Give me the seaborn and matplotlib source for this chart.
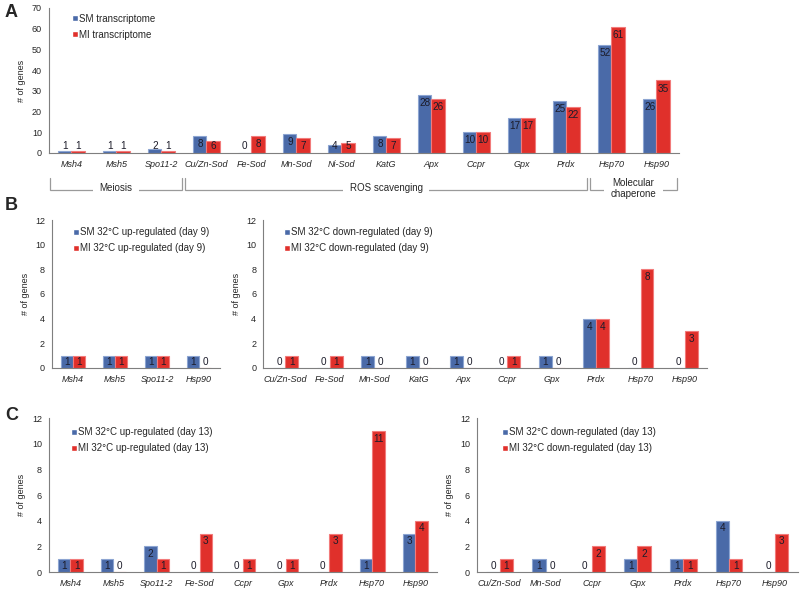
import numpy as np
import pandas as pd
import matplotlib
matplotlib.use("Agg")
import matplotlib.pyplot as plt
import seaborn as sns
from matplotlib.lines import Line2D

sns.set_style("white")
plt.rcParams['font.family'] = ['Liberation Sans', 'DejaVu Sans']

BLUE = "#4A6AA8"
RED = "#E0302B"
BLUE_EDGE = "#8DA5D2"
RED_EDGE = "#F27B7B"

# ---------------- data ----------------
genes_a = ["Msh4", "Msh5", "Spo11-2", "Cu/Zn-Sod", "Fe-Sod", "Mn-Sod", "Ni-Sod",
           "KatG", "Apx", "Ccpr", "Gpx", "Prdx", "Hsp70", "Hsp90"]
sm_a = [1, 1, 2, 8, 0, 9, 4, 8, 28, 10, 17, 25, 52, 26]
mi_a = [1, 1, 1, 6, 8, 7, 5, 7, 26, 10, 17, 22, 61, 35]
labels_a = ["SM transcriptome", "MI transcriptome"]

genes_b1 = ["Msh4", "Msh5", "Spo11-2", "Hsp90"]
sm_b1 = [1, 1, 1, 1]
mi_b1 = [1, 1, 1, 0]
labels_b1 = ["SM 32°C up-regulated (day 9)", "MI 32°C up-regulated (day 9)"]

genes_b2 = ["Cu/Zn-Sod", "Fe-Sod", "Mn-Sod", "KatG", "Apx", "Ccpr", "Gpx",
            "Prdx", "Hsp70", "Hsp90"]
sm_b2 = [0, 0, 1, 1, 1, 0, 1, 4, 0, 0]
mi_b2 = [1, 1, 0, 0, 0, 1, 0, 4, 8, 3]
labels_b2 = ["SM 32°C down-regulated (day 9)", "MI 32°C down-regulated (day 9)"]

genes_c1 = ["Msh4", "Msh5", "Spo11-2", "Fe-Sod", "Ccpr", "Gpx", "Prdx",
            "Hsp70", "Hsp90"]
sm_c1 = [1, 1, 2, 0, 0, 0, 0, 1, 3]
mi_c1 = [1, 0, 1, 3, 1, 1, 3, 11, 4]
labels_c1 = ["SM 32°C up-regulated (day 13)", "MI 32°C up-regulated (day 13)"]

genes_c2 = ["Cu/Zn-Sod", "Mn-Sod", "Ccpr", "Gpx", "Prdx", "Hsp70", "Hsp90"]
sm_c2 = [0, 1, 0, 1, 1, 4, 0]
mi_c2 = [1, 0, 2, 2, 1, 1, 3]
labels_c2 = ["SM 32°C down-regulated (day 13)", "MI 32°C down-regulated (day 13)"]

groups_a = [("Meiosis", 0, 2), ("ROS scavenging", 3, 11), ("Molecular\nchaperone", 12, 13)]

FS = 6.5
GRAY = "#7f7f7f"


def panel(ax, genes, sm, mi, labels, ymax, ystep, off, minpos, leg_xy):
    df = pd.DataFrame({"gene": genes * 2,
                       "series": [labels[0]] * len(genes) + [labels[1]] * len(genes),
                       "value": list(sm) + list(mi)})
    sns.barplot(data=df, x="gene", y="value", hue="series", order=genes,
                hue_order=labels, palette=[BLUE, RED], saturation=1,
                width=0.58, ax=ax, legend=False, linewidth=0.8)
    for cont, ec in zip(ax.containers, [BLUE_EDGE, RED_EDGE]):
        for bar in cont:
            bar.set_edgecolor(ec)
            h = bar.get_height()
            x = bar.get_x() + bar.get_width() / 2
            ax.text(x, max(h - off, minpos), f"{int(round(h))}", ha="center",
                    va="center", fontsize=FS + 0.7, color="#1c1c2a")
    n = len(genes)
    ax.set_xlim(-0.5, n - 0.5)
    ax.set_ylim(0, ymax)
    ax.set_yticks(np.arange(0, ymax + 1, ystep))
    ax.set_xticks(np.arange(n))
    ax.set_xticklabels(genes, style="italic", fontsize=FS)
    ax.set_xticks(np.arange(n + 1) - 0.5, minor=True)
    ax.tick_params(axis="x", which="major", length=0, pad=5)
    ax.tick_params(axis="x", which="minor", length=3, color=GRAY, width=0.8)
    ax.tick_params(axis="y", length=3, color=GRAY, width=0.8, labelsize=FS, pad=2)
    ax.set_xlabel("")
    ax.set_ylabel("# of genes", fontsize=FS, labelpad=4)
    for s in ["top", "right"]:
        ax.spines[s].set_visible(False)
    for s in ["left", "bottom"]:
        ax.spines[s].set_color(GRAY)
        ax.spines[s].set_linewidth(0.8)
    handles = [Line2D([0], [0], marker="s", color="w", markerfacecolor=c,
                      markersize=4, linestyle="None") for c in [BLUE, RED]]
    ax.legend(handles, labels, loc="upper left", bbox_to_anchor=leg_xy,
              frameon=False, fontsize=FS + 0.5, handletextpad=0.05,
              handlelength=0.8, labelspacing=0.6, borderaxespad=0,
              borderpad=0)


fig = plt.figure(figsize=(8, 5.9), dpi=100)

axA = fig.add_axes([0.0612, 0.7407, 0.7875, 0.2458])
panel(axA, genes_a, sm_a, mi_a, labels_a, 70, 10, 3.9, 3.2, (0.035, 0.96))

axB1 = fig.add_axes([0.065, 0.3763, 0.21, 0.2508])
panel(axB1, genes_b1, sm_b1, mi_b1, labels_b1, 12, 2, 0.65, 0.5, (0.12, 0.95))
axB2 = fig.add_axes([0.329, 0.3763, 0.555, 0.2508])
panel(axB2, genes_b2, sm_b2, mi_b2, labels_b2, 12, 2, 0.65, 0.5, (0.045, 0.95))

axC1 = fig.add_axes([0.061, 0.0305, 0.485, 0.261])
panel(axC1, genes_c1, sm_c1, mi_c1, labels_c1, 12, 2, 0.6, 0.5, (0.055, 0.94))
axC2 = fig.add_axes([0.596, 0.0305, 0.4015, 0.261])
panel(axC2, genes_c2, sm_c2, mi_c2, labels_c2, 12, 2, 0.6, 0.5, (0.075, 0.94))

# group brackets under panel A
tr = axA.get_xaxis_transform()
y_top, y_line = -0.17, -0.255
for name, i0, i1 in groups_a:
    x0, x1 = i0 - 0.47, i1 + 0.45
    axA.plot([x0, x0, x1, x1], [y_top, y_line, y_line, y_top], color="#9a9a9a",
             lw=0.9, transform=tr, clip_on=False, solid_joinstyle="miter")
    axA.text((x0 + x1) / 2, y_line + 0.012, name, ha="center", va="center",
             fontsize=FS + 0.5, transform=tr, linespacing=1.1,
             bbox=dict(facecolor="white", edgecolor="none", pad=5))

fig.text(0.006, 0.978, "A", fontsize=13, weight="bold", va="center")
fig.text(0.006, 0.652, "B", fontsize=13, weight="bold", va="center")
fig.text(0.006, 0.296, "C", fontsize=13, weight="bold", va="center")

fig.savefig("out.png", dpi=100)
